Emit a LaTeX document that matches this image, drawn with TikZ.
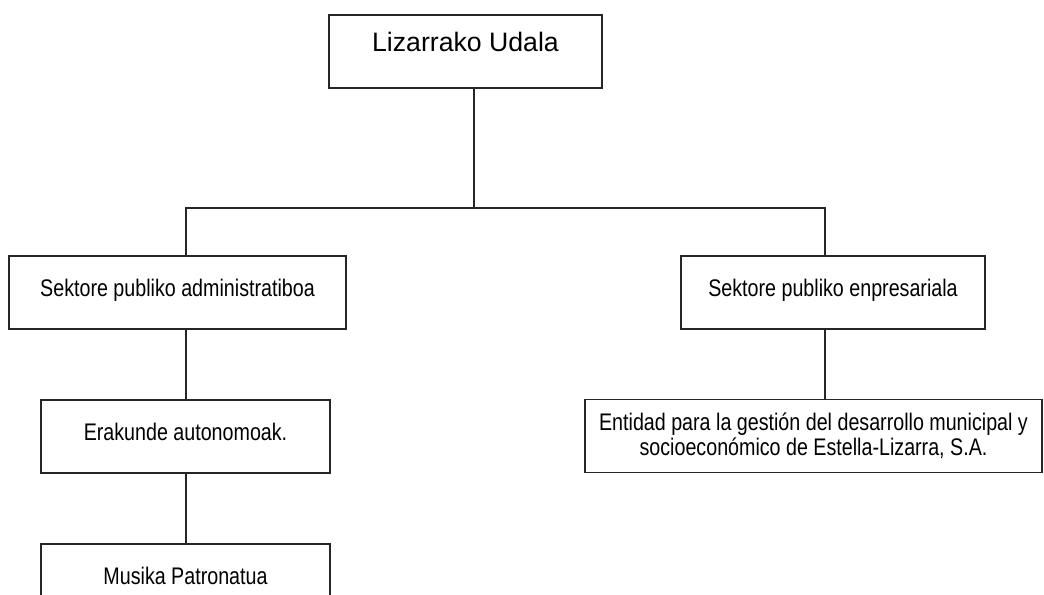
\documentclass[tikz,border=0pt]{standalone}
\usepackage{fontspec}
\setmainfont{Liberation Sans}
\newfontfamily\narrowfont[FakeStretch=0.82]{Liberation Sans}
\usepackage{tikz}
\usetikzlibrary{positioning,calc}

\begin{document}
\begin{tikzpicture}
[
	x=0.75pt, y=-0.75pt,
	box/.style={rectangle,draw=black!85,line width=0.8pt,inner sep=0pt,minimum height=54.75pt},
	smallbox/.style={box,font=\narrowfont\fontsize{18}{19.5}\selectfont,text height=11pt,text depth=4.5pt},
	link/.style={draw=black!85,line width=0.8pt},
]
	\path[use as bounding box] (0,0) rectangle (1044,594);
	\clip (0,0) rectangle (1044,594);

	\begin{scope}
		\node[box,minimum width=204.75pt,font=\fontsize{20}{24}\selectfont,text height=7.5pt,text depth=7.5pt] (udala) at (465.5,51.5) {Lizarrako Udala};
		\node[smallbox,minimum width=252.75pt] (admin) at (177.5,292.5) {Sektore publiko administratiboa};
		\node[smallbox,minimum width=228pt] (enpresa) at (833,292.5) {Sektore publiko enpresariala};
		\node[smallbox,minimum width=216.75pt] (autonomo) at (185.5,436.5) {Erakunde autonomoak.};
		\node[smallbox,minimum width=216.75pt] (musika) at (185.5,580.5) {Musika Patronatua};
		\node[box,minimum width=342.75pt,font=\narrowfont\fontsize{18}{19}\selectfont,align=center] (entitatea) at (813.5,436) {\raisebox{-2pt}{Entidad para la gesti\'on del desarrollo municipal y}\\\raisebox{-2pt}{socioecon\'omico de Estella-Lizarra, S.A.}};
	\end{scope}

	\begin{scope}
		\coordinate (mid) at (474,208);
		\coordinate (left) at (186,208);
		\coordinate (right) at (825,208);

		\draw[link] (udala.south -| mid) -- (mid);
		\draw[link] (admin.north -| left) -- (left) -- (right) -- (enpresa.north -| right);
		\draw[link] (admin.south -| left) -- (autonomo.north -| left);
		\draw[link] (autonomo.south -| left) -- (musika.north -| left);
		\draw[link] (enpresa.south -| right) -- (entitatea.north -| right);
	\end{scope}
\end{tikzpicture}
\end{document}
